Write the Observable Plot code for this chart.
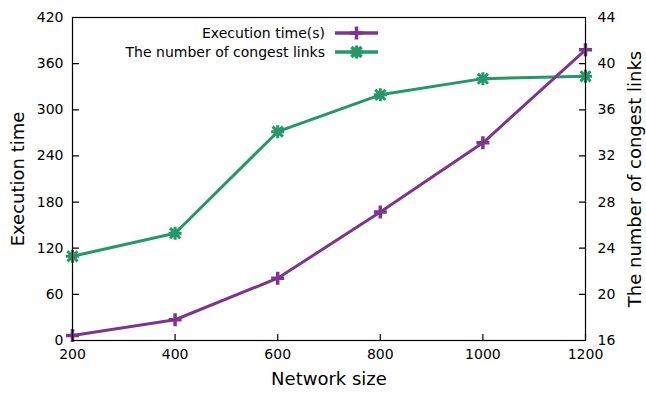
<!DOCTYPE html>
<html><head><meta charset="utf-8">
<script src="https://cdn.jsdelivr.net/npm/d3@7"></script>
<script src="https://cdn.jsdelivr.net/npm/@observablehq/plot@0.6"></script>
<style>
body{margin:0;background:#fff;}
#wrap{position:relative;width:646px;height:394px;font-family:"DejaVu Sans",sans-serif;}
#legend{position:absolute;left:0;top:0;font-size:14px;color:#000;}
.row{position:absolute;display:flex;align-items:center;height:18px;}
.row span{display:block;text-align:right;width:260px;white-space:nowrap;}
</style></head><body><div id="wrap"></div>
<script>
// ---- data ----
const networkSize = [200, 400, 600, 800, 1000, 1200];
const execTime = [6.5, 27, 81, 167, 257, 378];
const congestLinks = [23.3, 25.3, 34.1, 37.3, 38.7, 38.9];
const xTicks = [200, 400, 600, 800, 1000, 1200];
const leftTicks = [0, 60, 120, 180, 240, 300, 360, 420];
const rightTicks = [16, 20, 24, 28, 32, 36, 40, 44];
const seriesNames = ["Execution time(s)", "The number of congest links"];
const xTitle = "Network size";
const yTitle = "Execution time";
const y2Title = "The number of congest links";

const purple = "#7e3590";
const green = "#22996b";

const leftDomain = [0, 420];
const rightDomain = [16, 44];
const toLeft = v => leftDomain[0] + (v - rightDomain[0]) * (leftDomain[1] - leftDomain[0]) / (rightDomain[1] - rightDomain[0]);
const fromLeft = v => rightDomain[0] + (v - leftDomain[0]) * (rightDomain[1] - rightDomain[0]) / (leftDomain[1] - leftDomain[0]);

const execData = networkSize.map((x, i) => ({x, y: execTime[i]}));
const congData = networkSize.map((x, i) => ({x, y: toLeft(congestLinks[i])}));

const plusSym = {draw(ctx, size) {const h = Math.sqrt(size / Math.PI); ctx.moveTo(-h, 0); ctx.lineTo(h, 0); ctx.moveTo(0, -h); ctx.lineTo(0, h);}};
const starSym = {draw(ctx, size) {const h = Math.sqrt(size / Math.PI); const d = h * 0.78;
  ctx.moveTo(-h, 0); ctx.lineTo(h, 0); ctx.moveTo(0, -h); ctx.lineTo(0, h);
  ctx.moveTo(-d, -d); ctx.lineTo(d, d); ctx.moveTo(-d, d); ctx.lineTo(d, -d);}};
const tickShape = {draw(ctx, l) {ctx.moveTo(0, 0); ctx.lineTo(0, -l);}};

const chart = Plot.plot({
  width: 646, height: 394,
  marginLeft: 72, marginRight: 61, marginTop: 17, marginBottom: 54,
  style: {fontFamily: "DejaVu Sans", fontSize: "14px", color: "#000", background: "#fff", overflow: "visible"},
  x: {domain: [200, 1200]},
  y: {domain: leftDomain},
  marks: [
    Plot.line(congData, {x: "x", y: "y", stroke: green, strokeWidth: 3}),
    Plot.line(execData, {x: "x", y: "y", stroke: purple, strokeWidth: 3}),
    Plot.dot(congData, {x: "x", y: "y", symbol: starSym, r: 6.5, stroke: green, strokeWidth: 3, fill: "none"}),
    Plot.dot(execData, {x: "x", y: "y", symbol: plusSym, r: 6.5, stroke: purple, strokeWidth: 3.5, fill: "none"}),
    Plot.frame({stroke: "#000", strokeWidth: 1.2}),
    Plot.vector(leftTicks, {y: d => d, frameAnchor: "left", length: 6, rotate: 90, anchor: "start", shape: tickShape, stroke: "#000", strokeWidth: 1.2}),
    Plot.vector(rightTicks.map(toLeft), {y: d => d, frameAnchor: "right", length: 6, rotate: -90, anchor: "start", shape: tickShape, stroke: "#000", strokeWidth: 1.2}),
    Plot.vector(xTicks, {x: d => d, frameAnchor: "bottom", length: 6, rotate: 0, anchor: "start", shape: tickShape, stroke: "#000", strokeWidth: 1.2}),
    Plot.axisY(leftTicks, {anchor: "left", tickSize: 0, tickPadding: 9, label: null}),
    Plot.axisY(rightTicks.map(toLeft), {anchor: "right", tickSize: 0, tickPadding: 12, label: null, tickFormat: v => String(Math.round(fromLeft(v)))}),
    Plot.axisX(xTicks, {anchor: "bottom", tickSize: 0, tickPadding: 9, label: null, tickFormat: d => String(d)}),
    Plot.text([xTitle], {frameAnchor: "bottom", textAnchor: "middle", dy: 44, fontSize: 18}),
    Plot.text([yTitle], {frameAnchor: "left", textAnchor: "middle", rotate: -90, dx: -54, fontSize: 18}),
    Plot.text([y2Title], {frameAnchor: "right", textAnchor: "middle", rotate: -90, dx: 50, fontSize: 18})
  ]
});
const wrap = document.getElementById("wrap");
wrap.appendChild(chart);

// legend
const legend = document.createElement("div");
legend.id = "legend";
const rows = [{name: seriesNames[0], color: purple, sym: "plus"}, {name: seriesNames[1], color: green, sym: "star"}];
const rowY = [33, 52];
rows.forEach((r, i) => {
  const row = document.createElement("div");
  row.className = "row";
  row.style.left = "65px";
  row.style.top = (rowY[i] - 9) + "px";
  const sp = document.createElement("span");
  sp.textContent = r.name;
  row.appendChild(sp);
  const ns = "http://www.w3.org/2000/svg";
  const svg = document.createElementNS(ns, "svg");
  svg.setAttribute("width", 54); svg.setAttribute("height", 18);
  svg.style.marginLeft = "10px";
  const ln = document.createElementNS(ns, "line");
  ln.setAttribute("x1", 0); ln.setAttribute("x2", 43); ln.setAttribute("y1", 9); ln.setAttribute("y2", 9);
  ln.setAttribute("stroke", r.color); ln.setAttribute("stroke-width", 3.5);
  svg.appendChild(ln);
  const p = document.createElementNS(ns, "path");
  const h = 6.5, d = h * 0.78, cx = 21.5, cy = 9;
  let dd = `M${cx - h},${cy}L${cx + h},${cy}M${cx},${cy - h}L${cx},${cy + h}`;
  if (r.sym === "star") dd += `M${cx - d},${cy - d}L${cx + d},${cy + d}M${cx - d},${cy + d}L${cx + d},${cy - d}`;
  p.setAttribute("d", dd); p.setAttribute("stroke", r.color); p.setAttribute("stroke-width", 3.5); p.setAttribute("fill", "none");
  svg.appendChild(p);
  row.appendChild(svg);
  legend.appendChild(row);
});
wrap.appendChild(legend);
</script>
</body></html>
